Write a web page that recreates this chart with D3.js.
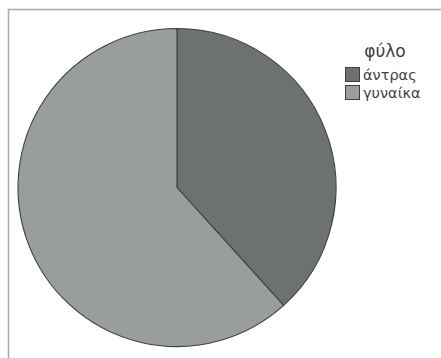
<!DOCTYPE html>
<html>
<head>
<meta charset="utf-8">
<script src="https://cdn.jsdelivr.net/npm/d3@7"></script>
<style>
  html, body { margin: 0; padding: 0; background: #fff; }
  svg { display: block; }
  text { font-family: "DejaVu Sans", "Open Sans", sans-serif; fill: #3f3f3f; }
</style>
</head>
<body>
<svg id="chart" width="441" height="358"></svg>
<script>
// Gender split (percent)
const categories = ["άντρας", "γυναίκα"];
const values = [38.3, 61.7];
const colors = ["#6d7172", "#9a9d9e"];
const legendTitle = "φύλο";

const svg = d3.select("#chart");
const W = 441, H = 358;

// outer frame
svg.append("path")
  .attr("d", `M8.5,${H} V9.5 H${W}`)
  .attr("fill", "none")
  .attr("stroke", "#a9abac")
  .attr("stroke-width", 1.6);

const cx = 177, cy = 187.5, r = 159;

const pie = d3.pie().sort(null).value(d => d.v);
const arc = d3.arc().innerRadius(0).outerRadius(r);
const data = categories.map((c, i) => ({ c, v: values[i] }));
const color = d3.scaleOrdinal().domain(categories).range(colors);

svg.append("g")
  .attr("transform", `translate(${cx},${cy})`)
  .selectAll("path")
  .data(pie(data))
  .join("path")
  .attr("d", arc)
  .attr("fill", d => color(d.data.c))
  .attr("stroke", "#3c3f40")
  .attr("stroke-width", 1.1)
  .attr("stroke-linejoin", "round");

// legend
const lg = svg.append("g");
lg.append("text")
  .attr("x", 385).attr("y", 57)
  .attr("text-anchor", "middle")
  .attr("font-size", 17)
  .text(legendTitle);

const rows = lg.selectAll("g.row")
  .data(categories)
  .join("g")
  .attr("class", "row")
  .attr("transform", (d, i) => `translate(345,${67 + i * 18})`);

rows.append("rect")
  .attr("x", 0.5).attr("y", 0.5)
  .attr("width", 14).attr("height", 14)
  .attr("fill", d => color(d))
  .attr("stroke", "#3c3f40")
  .attr("stroke-width", 1);

rows.append("text")
  .attr("x", 18).attr("y", 12.5)
  .attr("font-size", 14.5)
  .text(d => d);
</script>
</body>
</html>
